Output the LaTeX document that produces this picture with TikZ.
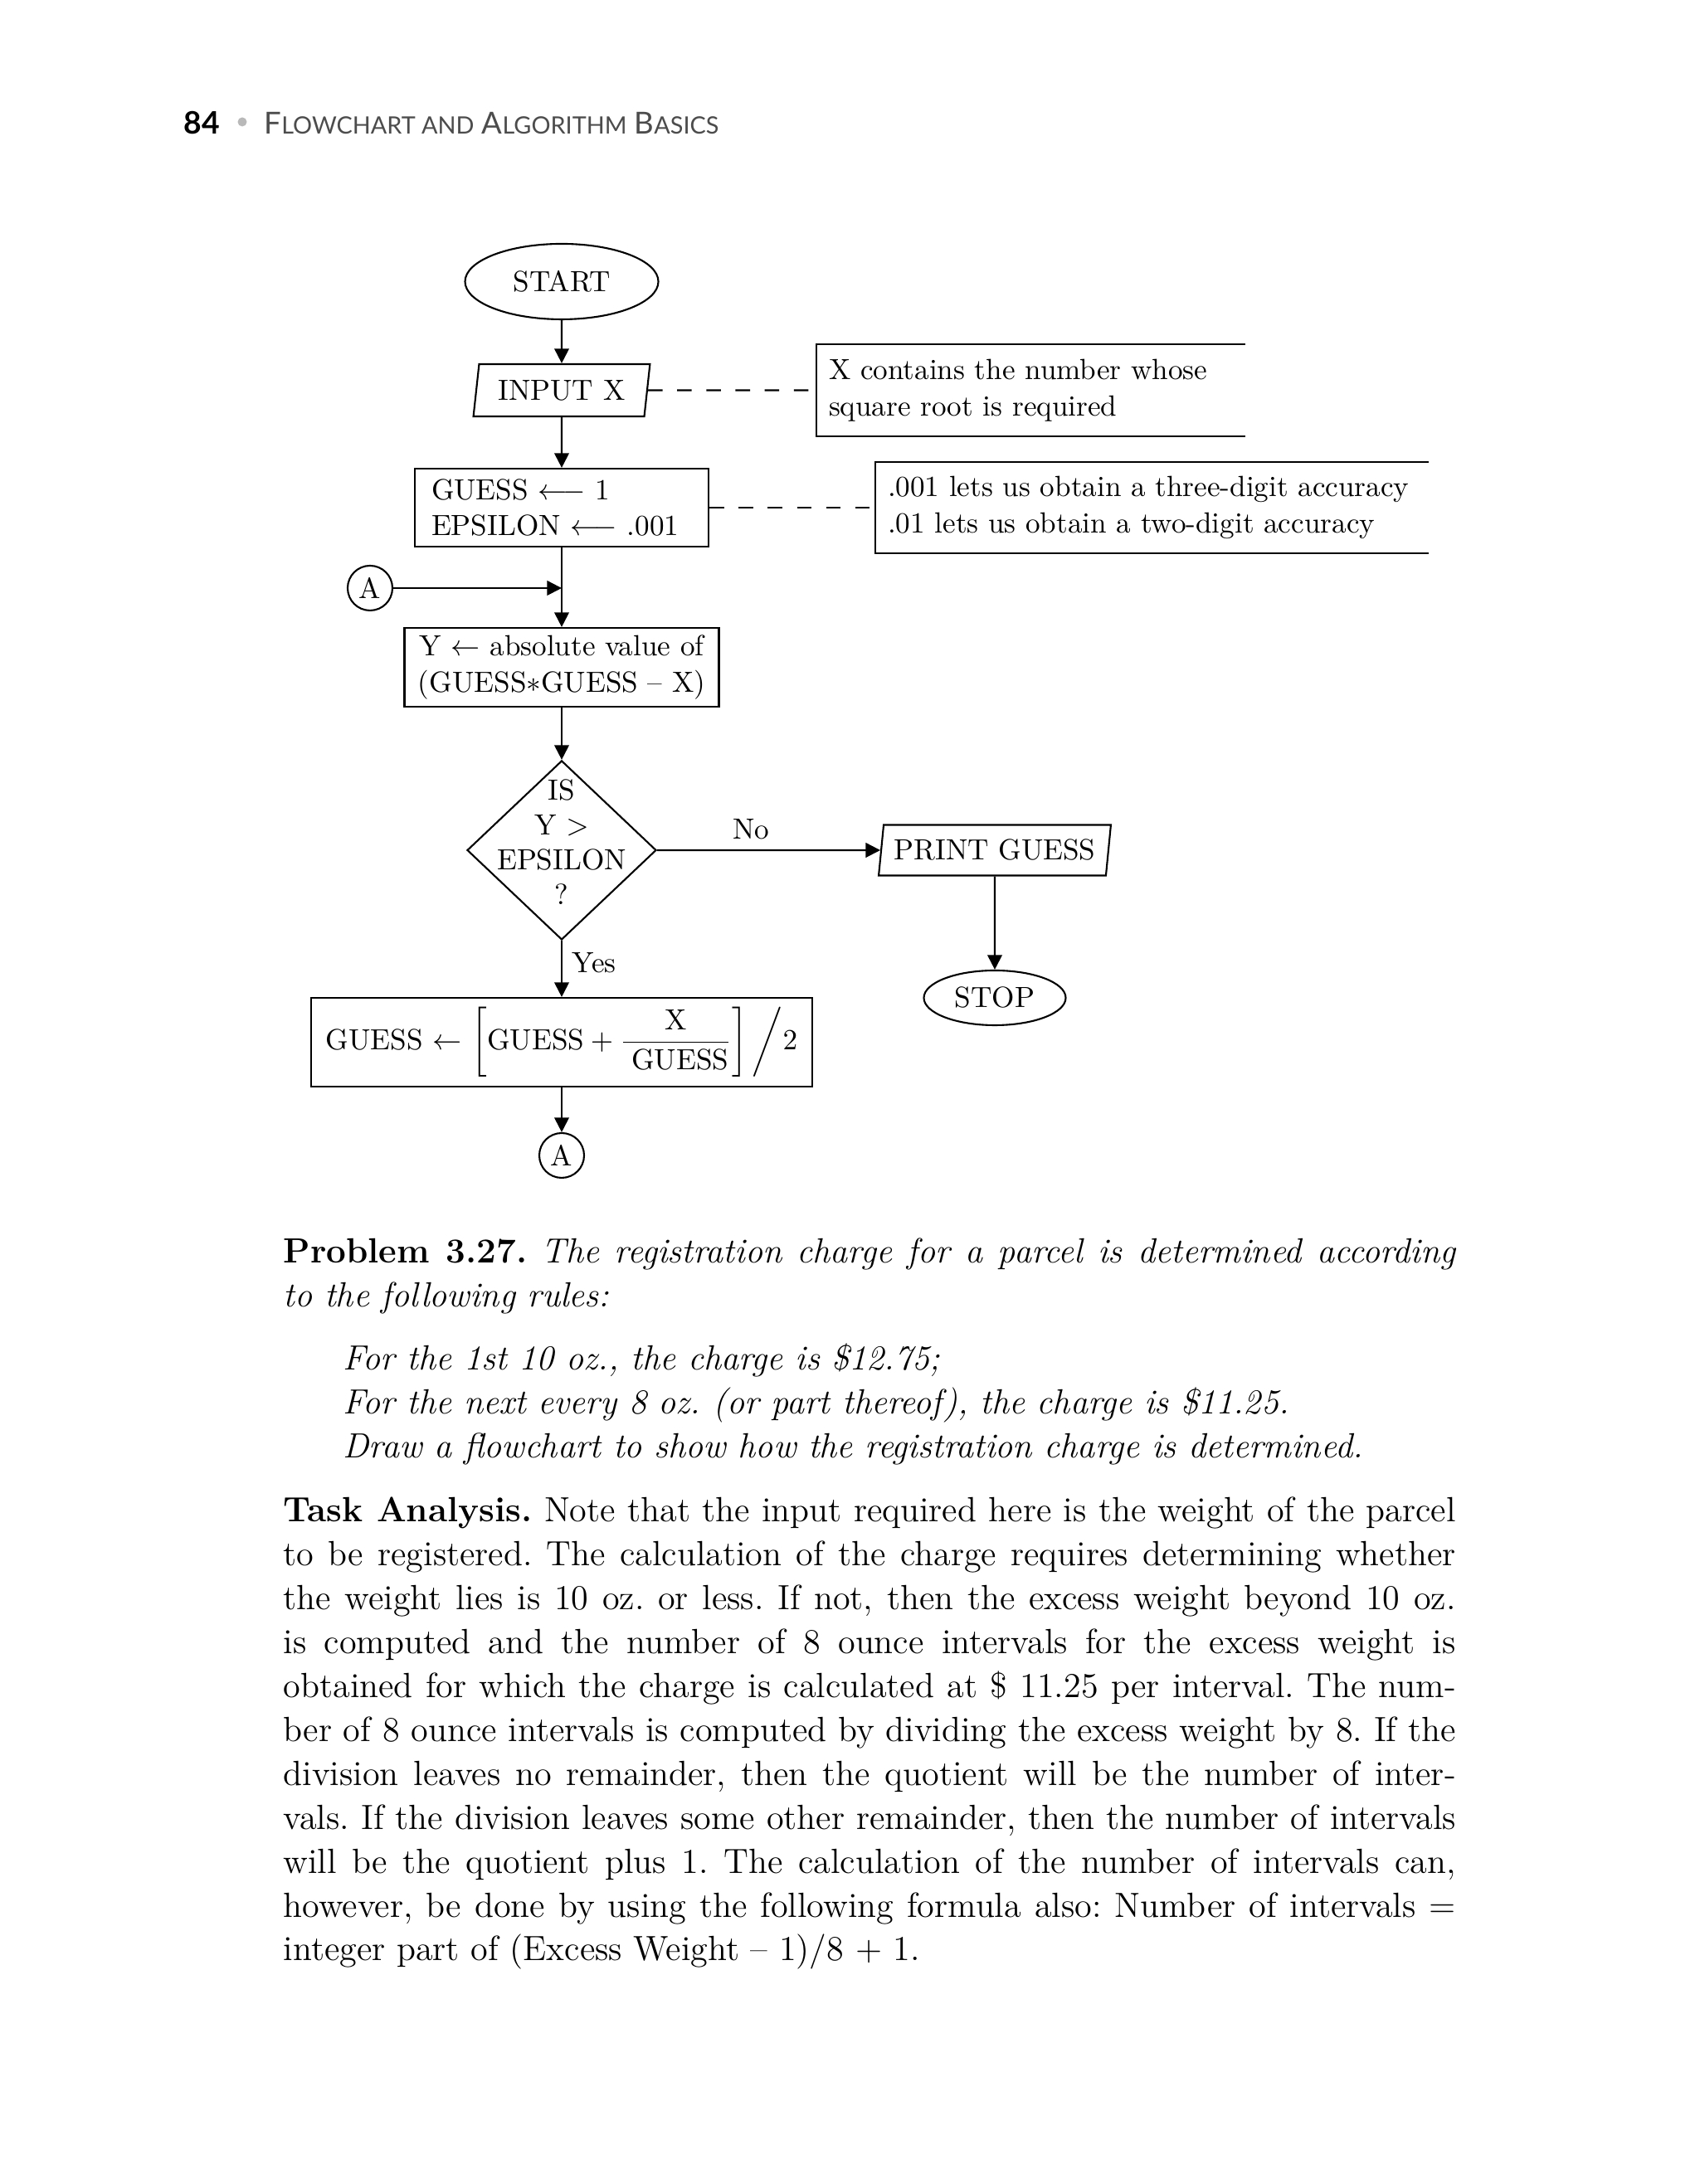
\documentclass[tikz,border=0pt]{standalone}
\usepackage{fontspec}
\usetikzlibrary{shapes.geometric, arrows.meta}
\newfontfamily\headfont{Lato}
\newcommand\smallcap[1]{{\fontsize{8.2}{9}\selectfont #1}}
\definecolor{headgray}{gray}{0.3}
\hyphenpenalty=10000
\tolerance=9999

\begin{document}
\begin{tikzpicture}[
  every node/.style = {font=\fontsize{10}{12.5}\selectfont},
  arrow/.style = {->, >={Triangle[length=5pt, width=5pt]}},
  line/.style = {line width=0.6pt},
  flow/.style = {line, draw, inner sep=0pt},
  terminal/.style = {flow, ellipse},
  io/.style = {flow, trapezium, trapezium left angle=78, trapezium right angle=102, trapezium stretches=true},
  process/.style = {flow, rectangle},
  decision/.style = {flow, diamond},
  connector/.style = {flow, circle, minimum size=0.54cm},
  note/.style = {align=left, inner xsep=0.14cm, inner ysep=0pt},
  body/.style = {anchor=base west, inner sep=0pt, font=\fontsize{12}{15.05}\selectfont\frenchspacing}]

  \useasboundingbox (0,0) rectangle (20.48,26.33);

  % hlavicka strany
  \node[anchor=base west, inner sep=0pt, font=\headfont\bfseries\fontsize{10.6}{12}\selectfont] (pagenum) at (2.21,24.71) {84};
  \node[circle, fill=gray!55, inner sep=0pt, minimum size=0.11cm] (bullet) at (2.92,24.86) {};
  \node[anchor=base west, inner sep=0pt, text=headgray, font=\headfont\fontsize{10.4}{12}\selectfont] (running) at (3.18,24.71)
    {F\smallcap{LOWCHART AND} A\smallcap{LGORITHM} B\smallcap{ASICS}};

  % bloky
  \node[terminal, minimum width=2.33cm, minimum height=0.91cm] (start) at (6.77,22.935) {START};
  \node[io, minimum width=2.13cm, minimum height=0.63cm] (input) at (6.77,21.625) {INPUT X};
  \node[process, minimum width=3.54cm, minimum height=0.94cm, text width=3.14cm, align=left] (init) at (6.77,20.21)
    {GUESS $\longleftarrow$ 1\\EPSILON $\longleftarrow$ .001};
  \node[connector] (atop) at (4.46,19.24) {A};
  \coordinate (join) at (init |- atop);
  \node[process, minimum width=3.79cm, minimum height=0.95cm, align=center] (absy) at (6.77,18.285)
    {Y $\leftarrow$ absolute value of\\(GUESS$\ast$GUESS -- X)};
  \node[decision, minimum width=2.28cm, minimum height=2.16cm,
    label={[align=center, font=\fontsize{10}{12}\selectfont, yshift=1mm]center:IS\\Y $>$\\EPSILON\\?}] (test) at (6.77,16.08) {};
  \node[io, minimum width=2.81cm, minimum height=0.61cm] (print) at (11.99,16.08) {PRINT GUESS};
  \node[terminal, minimum width=1.71cm, minimum height=0.66cm] (stop) at (11.99,14.30) {STOP};
  \node[process, minimum width=6.04cm, minimum height=1.07cm] (update) at (6.77,13.765)
    {GUESS $\leftarrow$\hspace{1.2mm}$\left[\mathrm{GUESS} + \displaystyle\frac{\mathrm{X}}{\hspace{1mm}\mathrm{GUESS}}\right]\bigg/2$};
  \node[connector] (abot) at (6.77,12.40) {A};

  % poznamky
  \node[note, text width=4.87cm, minimum height=1.09cm] (why) at (12.425,21.625)
    {X contains the number whose\\square root is required};
  \node[note, text width=6.37cm, minimum height=1.08cm] (acc) at (13.885,20.21)
    {.001 lets us obtain a three-digit accuracy\\.01 lets us obtain a two-digit accuracy};
  \draw[line] (why.north east) -- (why.north west) -- (why.south west) -- (why.south east);
  \draw[line] (acc.north east) -- (acc.north west) -- (acc.south west) -- (acc.south east);
  \draw[line, dash pattern=on 5pt off 5pt] (input) -- (why);
  \draw[line, dash pattern=on 5pt off 5pt] (init) -- (acc);

  % spojnice
  \draw[line, arrow] (start) -- (input);
  \draw[line, arrow] (input) -- (init);
  \draw[line, arrow] (init) -- (absy);
  \draw[line, arrow] (atop) -- (join);
  \draw[line, arrow] (absy) -- (test);
  \draw[line, arrow] (test) -- node[above, pos=0.42] (no) {No} (print);
  \draw[line, arrow] (print) -- (stop);
  \draw[line, arrow] (test) -- node[right, pos=0.39] (yes) {Yes} (update);
  \draw[line, arrow] (update) -- (abot);

  % text
  \node[body] (problem) at (3.41,11.10) {\parbox[t]{14.13cm}{\textbf{Problem 3.27.} \textit{The registration charge for a parcel is determined according\linebreak to the following rules:}}};
  \node[body] (rules) at (4.13,9.81) {\parbox[t]{13.5cm}{\itshape For the 1st 10 oz., the charge is \$12.75;\\
    For the next every 8 oz. (or part thereof), the charge is \$11.25.\\
    Draw a flowchart to show how the registration charge is determined.}};
  \node[body] (task) at (3.41,7.98) {\parbox[t]{14.13cm}{\textbf{Task Analysis.} Note that the input required here is the weight of the parcel\linebreak
    to be registered. The calculation of the charge requires determining whether\linebreak
    the weight lies is 10 oz. or less. If not, then the excess weight beyond 10 oz.\linebreak
    is computed and the number of 8 ounce intervals for the excess weight is\linebreak
    obtained for which the charge is calculated at \$ 11.25 per interval. The num-\linebreak
    ber of 8 ounce intervals is computed by dividing the excess weight by 8. If the\linebreak
    division leaves no remainder, then the quotient will be the number of inter-\linebreak
    vals. If the division leaves some other remainder, then the number of intervals\linebreak
    will be the quotient plus 1. The calculation of the number of intervals can,\linebreak
    however, be done by using the following formula also: Number of intervals =\linebreak
    integer part of (Excess Weight -- 1)/8 + 1.}};

\end{tikzpicture}
\end{document}
